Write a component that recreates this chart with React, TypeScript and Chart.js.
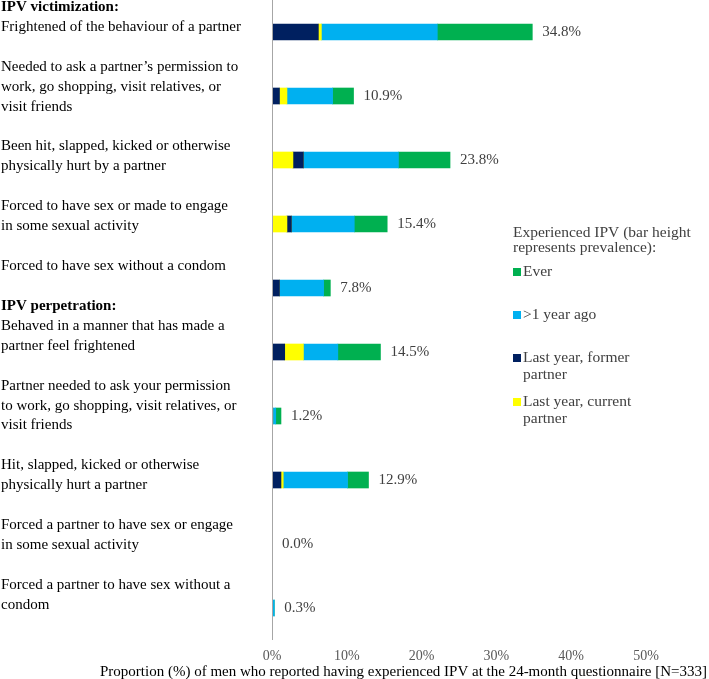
import React, { useEffect, useRef } from "react";
import { Chart, registerables } from "chart.js";

Chart.register(...registerables);

// ---------- data ----------
const sectionHeadings = ["IPV victimization:", "IPV perpetration:"];
const sectionStarts = [0, 5];

const categories: string[][] = [
  ["Frightened of the behaviour of a partner"],
  ["Needed to ask a partner\u2019s permission to", "work, go shopping, visit relatives, or", "visit friends"],
  ["Been hit, slapped, kicked or otherwise", "physically hurt by a partner"],
  ["Forced to have sex or made to engage", "in some sexual activity"],
  ["Forced to have sex without a condom"],
  ["Behaved in a manner that has made a", "partner feel frightened"],
  ["Partner needed to ask your permission", "to work, go shopping, visit relatives, or", "visit friends"],
  ["Hit, slapped, kicked or otherwise", "physically hurt a partner"],
  ["Forced a partner to have sex or engage", "in some sexual activity"],
  ["Forced a partner to have sex without a", "condom"],
];

// segment values (percent)
const formerVals = [6.2, 1.0, 1.4, 0.6, 1.0, 1.7, 0, 1.2, 0, 0];
const currentVals = [0.4, 1.0, 2.8, 2.0, 0, 2.5, 0.1, 0.3, 0, 0];
const currentFirst = [false, false, true, true, false, false, true, false, false, false];
const olderVals = [15.5, 6.1, 12.7, 8.4, 5.9, 4.6, 0.4, 8.6, 0, 0.3];
const everVals = [12.7, 2.8, 6.9, 4.4, 0.9, 5.7, 0.7, 2.8, 0, 0];

const xTicks = [0, 10, 20, 30, 40, 50];

const legendTitle = ["Experienced IPV (bar height", "represents prevalence):"];
const legendNames: string[][] = [
  ["Ever"],
  [">1 year ago"],
  ["Last year, former", "partner"],
  ["Last year, current", "partner"],
];
const axisTitle =
  "Proportion (%) of men who reported having experienced IPV at the 24-month questionnaire [N=333]";

// ---------- styles ----------
const COL_EVER = "#00B050";
const COL_OLDER = "#00B0F0";
const COL_FORMER = "#002060";
const COL_CURRENT = "#FFFF00";
const legendColors = [COL_EVER, COL_OLDER, COL_FORMER, COL_CURRENT];
const SERIF = '"Liberation Serif", "Times New Roman", serif';

const totals = categories.map(
  (_, i) => formerVals[i] + currentVals[i] + olderVals[i] + everVals[i]
);

const decorPlugin = {
  id: "decor",
  afterDraw(chart: any) {
    const ctx = chart.ctx;
    const xs = chart.scales.x;
    const ys = chart.scales.y;
    const area = chart.chartArea;
    ctx.save();

    // vertical axis line
    const x0 = Math.round(xs.getPixelForValue(0)) + 0.5;
    ctx.strokeStyle = "#a6a6a6";
    ctx.lineWidth = 1;
    ctx.beginPath();
    ctx.moveTo(x0, area.top);
    ctx.lineTo(x0, area.bottom);
    ctx.stroke();

    // value labels
    ctx.font = `15px ${SERIF}`;
    ctx.fillStyle = "#404040";
    ctx.textAlign = "left";
    ctx.textBaseline = "middle";
    totals.forEach((t, i) => {
      const x = xs.getPixelForValue(t) + 10;
      const y = ys.getPixelForValue(i);
      ctx.fillText(t.toFixed(1) + "%", x, y);
    });

    // left text block
    const lines: { text: string; bold: boolean }[] = [];
    categories.forEach((cat, i) => {
      const s = sectionStarts.indexOf(i);
      if (i > 0) lines.push({ text: "", bold: false });
      if (s >= 0) lines.push({ text: sectionHeadings[s], bold: true });
      cat.forEach((l) => lines.push({ text: l, bold: false }));
    });
    const pitch = 19.93;
    ctx.fillStyle = "#000000";
    lines.forEach((ln, k) => {
      if (!ln.text) return;
      ctx.font = `${ln.bold ? "bold " : ""}15px ${SERIF}`;
      ctx.fillText(ln.text, 1, area.top + 7 + k * pitch);
    });

    // legend
    const lx = 513;
    ctx.font = `15.5px ${SERIF}`;
    ctx.fillStyle = "#404040";
    ctx.fillText(legendTitle[0], lx, 233);
    ctx.fillText(legendTitle[1], lx, 248);
    const itemY = [272, 315, 358, 402];
    legendNames.forEach((nm, i) => {
      ctx.fillStyle = legendColors[i];
      ctx.fillRect(lx, itemY[i] - 4, 8, 8);
      ctx.fillStyle = "#404040";
      nm.forEach((l, j) => ctx.fillText(l, lx + 10, itemY[i] + j * 16.5));
    });

    // axis title
    ctx.fillStyle = "#000000";
    ctx.font = `15px ${SERIF}`;
    ctx.fillText(axisTitle, 100, 672);

    ctx.restore();
  },
};

export default function App() {
  const ref = useRef<HTMLCanvasElement | null>(null);

  useEffect(() => {
    document.body.style.margin = "0";
    if (!ref.current) return;
    const labels = categories.map((c) => c.join(" "));
    const chart = new Chart(ref.current, {
      type: "bar",
      data: {
        labels,
        datasets: [
          {
            label: "Last year, current partner",
            data: currentVals.map((v, i) => (currentFirst[i] ? v : 0)),
            backgroundColor: COL_CURRENT,
          },
          {
            label: "Last year, former partner",
            data: formerVals,
            backgroundColor: COL_FORMER,
          },
          {
            label: "Last year, current partner ",
            data: currentVals.map((v, i) => (currentFirst[i] ? 0 : v)),
            backgroundColor: COL_CURRENT,
          },
          {
            label: ">1 year ago",
            data: olderVals,
            backgroundColor: COL_OLDER,
          },
          {
            label: "Ever",
            data: everVals,
            backgroundColor: COL_EVER,
          },
        ],
      },
      options: {
        indexAxis: "y",
        animation: false,
        responsive: true,
        maintainAspectRatio: false,
        layout: { padding: { left: 272, right: 63, top: 0, bottom: 0 } },
        datasets: { bar: { barThickness: 16, borderWidth: 0 } },
        plugins: {
          legend: { display: false },
          tooltip: { enabled: false },
        },
        scales: {
          y: {
            stacked: true,
            display: false,
          },
          x: {
            stacked: true,
            min: 0,
            max: 50,
            afterBuildTicks: (scale: any) => {
              scale.ticks = xTicks.map((v) => ({ value: v }));
            },
            afterFit: (scale: any) => {
              scale.height = 39;
            },
            grid: { display: false },
            border: { display: false },
            ticks: {
              padding: 0,
              color: "#595959",
              font: { family: SERIF, size: 14 },
              callback: (v: any) => v + "%",
            },
          },
        },
      },
      plugins: [decorPlugin],
    });
    return () => chart.destroy();
  }, []);

  return (
    <div style={{ position: "relative", width: 709, height: 679 }}>
      <canvas ref={ref} />
    </div>
  );
}
